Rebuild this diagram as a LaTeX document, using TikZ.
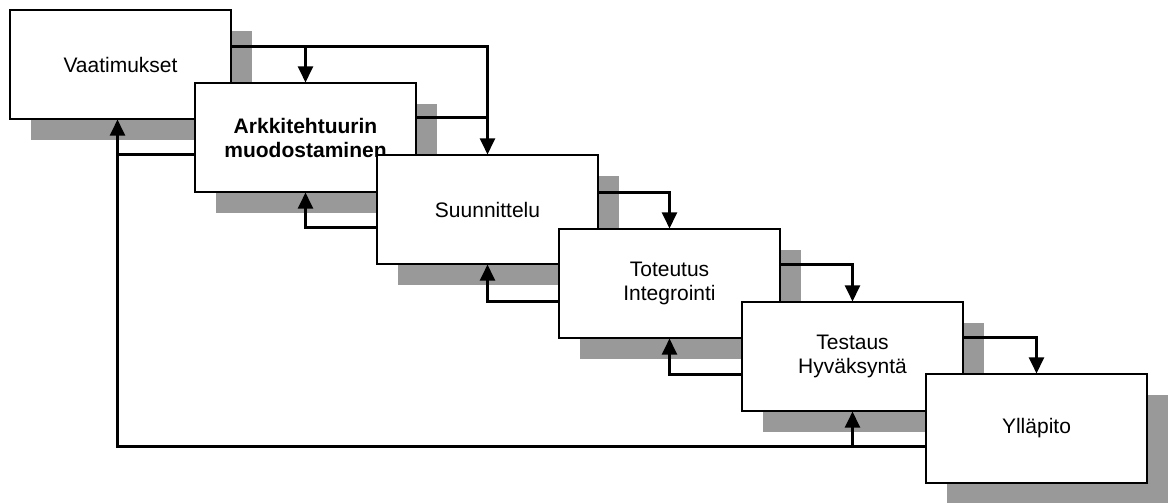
\documentclass[tikz,border=0pt]{standalone}
\usepackage{fontspec}
\setmainfont{Liberation Sans}
\usetikzlibrary{arrows.meta,shadows}
\begin{document}
\begin{tikzpicture}[x=1pt,y=-1pt,
  phase/.style={draw=black, line width=1.1pt, fill=white, minimum width=221pt, minimum height=109pt,
    inner sep=0pt, align=center, font=\fontsize{21}{24}\selectfont,
    drop shadow={shadow xshift=21pt, shadow yshift=-21pt, fill=black!40, opacity=1, draw=none}},
  flow/.style={line width=2.2pt, -{Triangle[width=15pt,length=16pt]}},
  link/.style={line width=2.2pt}]
\useasboundingbox (0,0) rectangle (1172,503);
\node[phase] (b1) at (120.5,64.5) {Vaatimukset};
\node[phase, font=\bfseries\fontsize{21}{24}\selectfont] (b2) at (305.5,137.5) {Arkkitehtuurin\\muodostaminen};
\node[phase] (b3) at (487.5,209.5) {Suunnittelu};
\node[phase] (b4) at (669.5,283.5) {Toteutus\\Integrointi};
\node[phase] (b5) at (852.5,356.5) {Testaus\\Hyväksyntä};
\node[phase] (b6) at (1036.5,428.5) {Ylläpito};
% forward connectors
\coordinate (o1) at ([yshift=-37pt]b1.north east);
\coordinate (o2) at ([yshift=-35pt]b2.north east);
\coordinate (o3) at ([yshift=-38pt]b3.north east);
\coordinate (o4) at ([yshift=-36pt]b4.north east);
\coordinate (o5) at ([yshift=-36pt]b5.north east);
\draw[flow] (o1) -| (b3.north);
\draw[flow] (o1 -| b2.north) -- (b2.north);
\draw[link] (o2) -- (o2 -| b3.north);
\draw[flow] (o3) -| (b4.north);
\draw[flow] (o4) -| (b5.north);
\draw[flow] (o5) -| (b6.north);
% feedback connectors
\coordinate (fb1) at ([xshift=-3pt]b1.south);
\coordinate (i2) at ([yshift=-72pt]b2.north west);
\coordinate (i3) at ([yshift=-73pt]b3.north west);
\coordinate (i4) at ([yshift=-73pt]b4.north west);
\coordinate (i5) at ([yshift=-73pt]b5.north west);
\coordinate (i6) at ([yshift=-73pt]b6.north west);
\draw[flow] (i6) -| (fb1);
\draw[link] (i2) -- (i2 -| fb1);
\draw[flow] (i6 -| b5.south) -- (b5.south);
\draw[flow] (i3) -| (b2.south);
\draw[flow] (i4) -| (b3.south);
\draw[flow] (i5) -| (b4.south);
\end{tikzpicture}
\end{document}
